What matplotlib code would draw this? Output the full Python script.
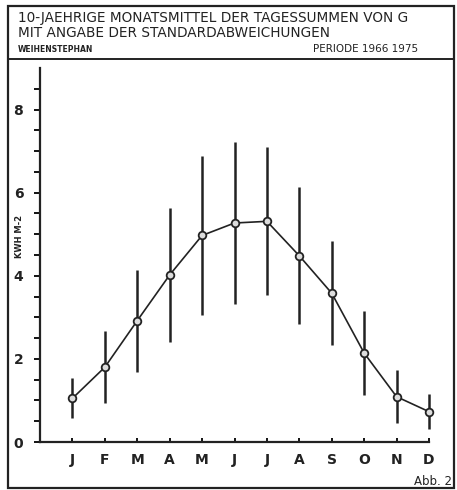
import matplotlib.pyplot as plt
from matplotlib.patches import Rectangle
from matplotlib.lines import Line2D

# data
months = ["J", "F", "M", "A", "M", "J", "J", "A", "S", "O", "N", "D"]
mean_g = [1.05, 1.80, 2.92, 4.02, 4.97, 5.27, 5.31, 4.48, 3.58, 2.14, 1.09, 0.73]
std_g = [0.48, 0.87, 1.23, 1.61, 1.92, 1.95, 1.78, 1.65, 1.25, 1.02, 0.64, 0.42]

x = list(range(1, 13))

fig = plt.figure(figsize=(4.57, 4.90), dpi=100)
fig.patch.set_facecolor("white")

# outer frame and title box
fig.add_artist(Rectangle((8 / 457, 1 - 488 / 490), 446 / 457, 482 / 490,
                         transform=fig.transFigure, fill=False, lw=1.6, ec="#222222"))
fig.add_artist(Line2D([8 / 457, 454 / 457], [1 - 59 / 490, 1 - 59 / 490],
                      transform=fig.transFigure, lw=1.4, color="#222222"))

fs = dict(color="#222222", family="DejaVu Sans")
fig.text(18 / 457, 1 - 18 / 490, "10-JAEHRIGE MONATSMITTEL DER TAGESSUMMEN VON G",
         fontsize=9.8, va="center", ha="left", **fs)
fig.text(18 / 457, 1 - 33 / 490, "MIT ANGABE DER STANDARDABWEICHUNGEN",
         fontsize=9.8, va="center", ha="left", **fs)
fig.text(18 / 457, 1 - 49 / 490, "WEIHENSTEPHAN", fontsize=5.5, fontweight="bold",
         va="center", ha="left", **fs)
fig.text(418 / 457, 1 - 49 / 490, "PERIODE 1966 1975", fontsize=7.5,
         va="center", ha="right", **fs)
fig.text(452 / 457, 1 - 481 / 490, "Abb. 2", fontsize=8.5, va="center", ha="right", **fs)
fig.text(19 / 457, 1 - 236 / 490, "KWH M-2", fontsize=6, fontweight="bold",
         rotation=90, va="center", ha="center", **fs)

ax = fig.add_axes([40 / 457, 1 - 442 / 490, 389 / 457, 374 / 490])
ax.errorbar(x, mean_g, yerr=std_g, fmt="-o", color="#222222", lw=1.2,
            elinewidth=1.8, capsize=0, ms=5.5, mfc="#dddddd", mec="#222222", mew=1.3,
            clip_on=False)

ax.set_xlim(0, 12)
ax.set_ylim(0, 9)
ax.set_xticks(x)
ax.set_xticklabels(months, fontsize=10, fontweight="bold", color="#222222")
ax.set_yticks([0, 2, 4, 6, 8])
ax.set_yticks([i * 0.5 for i in range(18)], minor=True)
ax.tick_params(axis="y", which="major", length=4, width=1.3, labelsize=10,
               labelcolor="#222222", pad=8)
ax.tick_params(axis="y", which="minor", length=4, width=1.3)
ax.tick_params(axis="x", direction="in", length=3, width=1.3, pad=8)
for lab in ax.get_yticklabels():
    lab.set_fontweight("bold")

for side in ("top", "right"):
    ax.spines[side].set_visible(False)
for side in ("left", "bottom"):
    ax.spines[side].set_linewidth(1.6)
    ax.spines[side].set_color("#222222")

fig.savefig("out.png", dpi=100)
